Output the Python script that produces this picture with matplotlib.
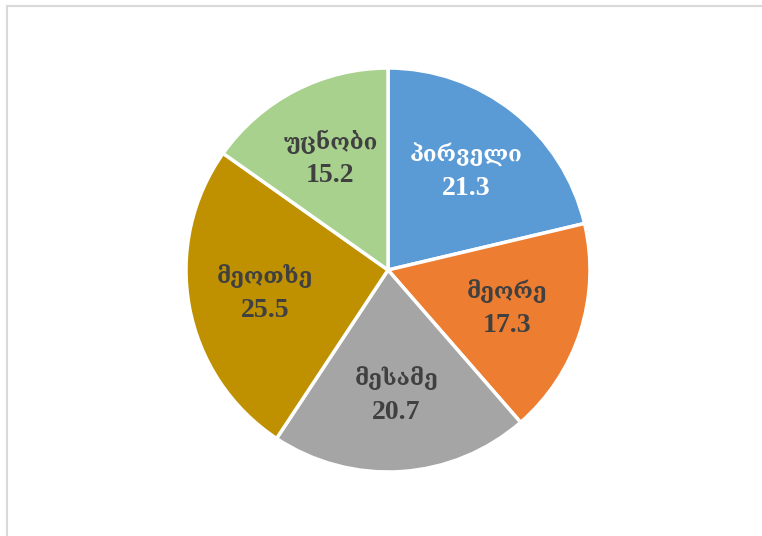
import numpy as np
import matplotlib.pyplot as plt
from matplotlib.lines import Line2D

labels = ["პირველი", "მეორე", "მესამე", "მეოთხე", "უცნობი"]
values = [21.3, 17.3, 20.7, 25.5, 15.2]
colors = ["#5B9BD5", "#ED7D31", "#A5A5A5", "#BF9000", "#A9D18E"]
text_colors = ["white", "#404040", "#404040", "#404040", "#404040"]

W, H = 762, 536
fig = plt.figure(figsize=(W / 100, H / 100), dpi=100)
fig.patch.set_facecolor("white")

# chart area border: only top and left edges are visible
bx, by = 6.5 / W, 1 - 5.5 / H
fig.add_artist(Line2D([bx, 1.0], [by, by], transform=fig.transFigure,
                      color="#D9D9D9", linewidth=1.5))
fig.add_artist(Line2D([bx, bx], [0.0, by], transform=fig.transFigure,
                      color="#D9D9D9", linewidth=1.5))

# pie centre ~ (388, 270) px, radius ~ 202 px
cx, cy, r = 388, 270, 202
ax = fig.add_axes([(cx - r) / W, (H - cy - r) / H, 2 * r / W, 2 * r / H])

ax.pie(values, colors=colors, startangle=90, counterclock=False,
       wedgeprops=dict(edgecolor="white", linewidth=2.5))
ax.set_xlim(-1, 1)
ax.set_ylim(-1, 1)
ax.set_aspect("equal")

cum = np.cumsum([0] + values[:-1])
for lab, v, c0, tc in zip(labels, values, cum, text_colors):
    ang = np.deg2rad(90 - (c0 + v / 2) / 100 * 360)
    x, y = 0.62 * np.cos(ang), 0.62 * np.sin(ang)
    ax.text(x, y + 0.085, lab, ha="center", va="center", color=tc,
            fontsize=16, fontweight="bold", family=["DejaVu Serif", "DejaVu Sans"])
    ax.text(x, y - 0.085, f"{v}", ha="center", va="center", color=tc,
            fontsize=20, fontweight="bold", family=["Liberation Serif", "DejaVu Serif"])

fig.savefig("out.png", dpi=100, facecolor="white")
